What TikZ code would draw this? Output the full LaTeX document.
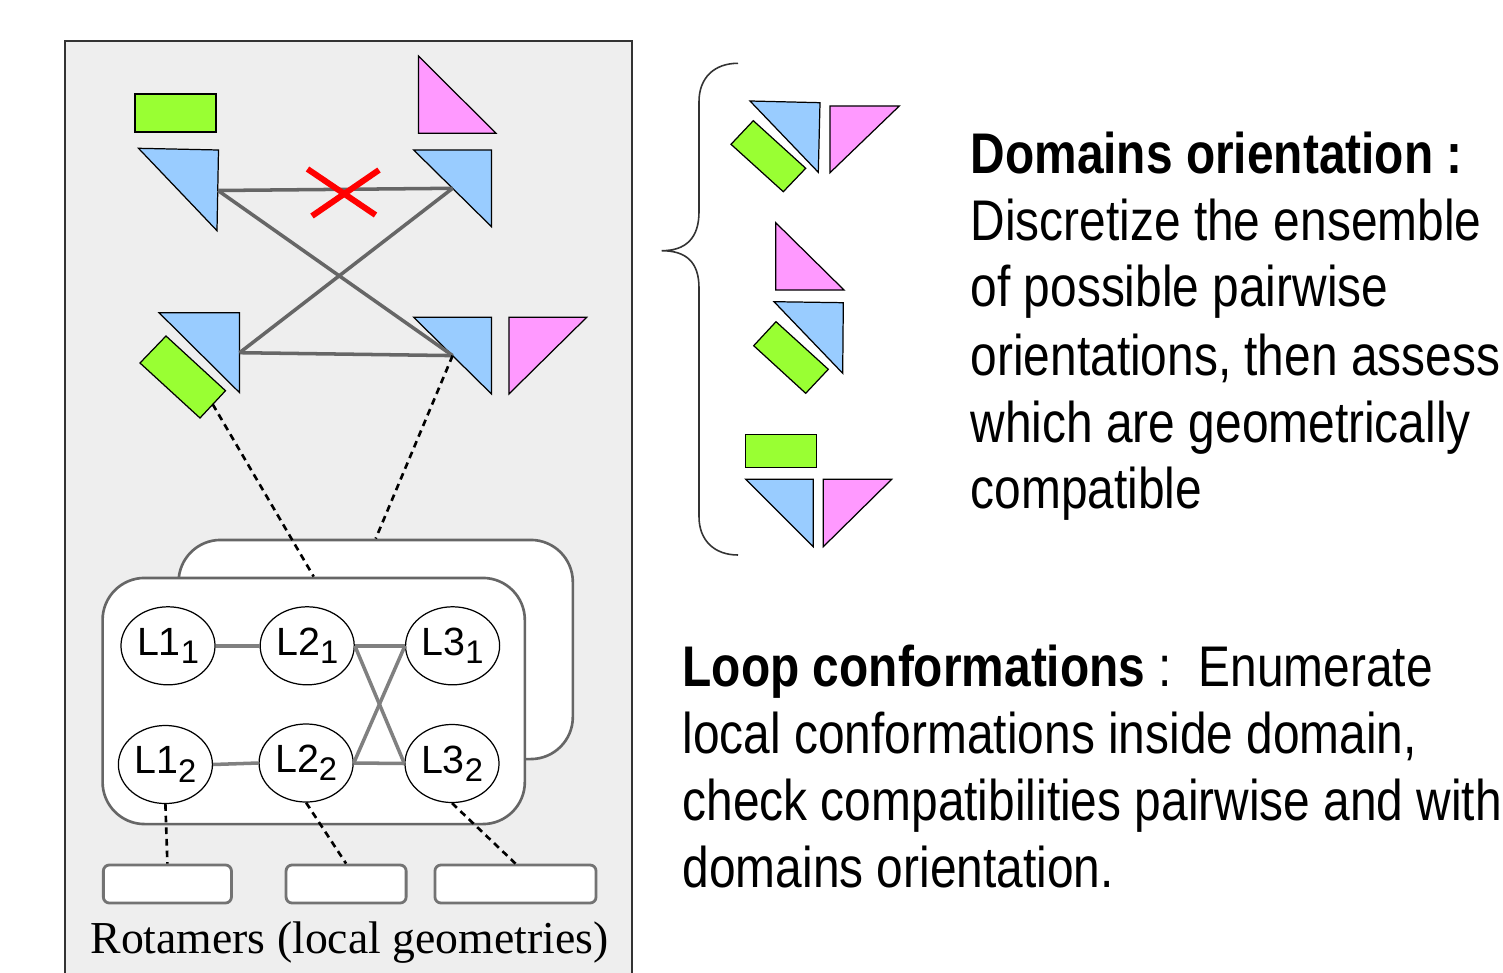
\documentclass[tikz,border=0pt]{standalone}
\usepackage{fontspec}
\usetikzlibrary{shapes.geometric}
\newfontfamily\narrowfont[FakeStretch=0.835]{Liberation Sans}
\newfontfamily\labfont{Liberation Sans}
\newfontfamily\serifcap{Liberation Serif}
\definecolor{bluet}{HTML}{99CCFF}
\definecolor{pinkt}{HTML}{FF99FF}
\definecolor{greent}{HTML}{99FF33}
\definecolor{panelbg}{HTML}{EEEEEE}
\definecolor{edgegray}{HTML}{666666}
\definecolor{linkgray}{HTML}{808080}
\newcommand{\lsub}[1]{\raisebox{-2.4pt}{\fontsize{9.3}{10}\selectfont #1}}
\begin{document}
\begin{tikzpicture}[x=0.01cm,y=-0.01cm,
  shapeline/.style={draw=black, line width=0.35pt, line join=miter},
  bluetri/.style={shapeline, fill=bluet},
  pinktri/.style={shapeline, fill=pinkt},
  greenbox/.style={shapeline, fill=greent},
  orientlink/.style={draw=edgegray, line width=1pt},
  cross/.style={draw=red, line width=1.7pt},
  dotlink/.style={draw=black, line width=0.75pt, dash pattern=on 1.9pt off 1.4pt},
  confbox/.style={draw=edgegray, fill=white, line width=0.75pt, rounded corners=0.42cm, inner sep=0pt},
  loopnode/.style={ellipse, draw=black, line width=0.35pt, fill=white, minimum width=0.94cm, minimum height=0.78cm, inner sep=0pt, font=\labfont\fontsize{11.2}{13}\selectfont},
  looplink/.style={draw=linkgray, line width=1pt},
  rotbox/.style={draw=black!55, fill=white, line width=0.8pt, rounded corners=0.06cm, minimum height=0.38cm, inner sep=0pt},
  desc/.style={anchor=base west, inner sep=0pt, font=\narrowfont\fontsize{16.3}{19}\selectfont},
  bracestyle/.style={draw=black!80, line width=0.45pt}
]
\useasboundingbox (0,0) rectangle (1503,973);
\fill[white] (0,0) rectangle (1503,973);
% left panel
\draw[fill=panelbg, draw=black!80, line width=0.4pt] (65,985) -- (65,41) -- (632,41) -- (632,985);

% top orientation shapes
\draw[greenbox] (135,94) rectangle (216,132);
\draw[pinktri] (418.5,56) -- (418.5,133.3) -- (496,133.3) -- cycle;
\draw[bluetri] (138.5,148.3) -- (218.5,150) -- (217,230.7) -- cycle;
\draw[bluetri] (413.7,150) -- (491.5,150) -- (491.5,226.7) -- cycle;
% bottom orientation shapes
\draw[greenbox] (140,363) -- (166,336) -- (225.5,390.7) -- (200,418) -- cycle;
\draw[bluetri] (159,312.7) -- (239.6,312.7) -- (239.6,392.7) -- cycle;
\draw[bluetri] (413.7,317.3) -- (491.5,317.3) -- (491.5,394) -- cycle;
\draw[pinktri] (508.9,317.3) -- (586.7,317.3) -- (508.9,394) -- cycle;

\coordinate (oTL) at (218,190.5);
\coordinate (oTR) at (452.6,188.3);
\coordinate (oBL) at (239.6,352.7);
\coordinate (oBR) at (452.6,355.6);
\coordinate (gBL) at (212.7,404.3);
\draw[orientlink] (oTL) -- (oTR);
\draw[orientlink] (oTL) -- (oBR);
\draw[orientlink] (oTR) -- (oBL);
\draw[orientlink] (oBL) -- (oBR);
\draw[cross] (307.5,169) -- (375.5,215);
\draw[cross] (379,170) -- (312,216);

% conformation boxes
\node[confbox, minimum width=3.94cm, minimum height=2.19cm] (back) at (375.7,649.5) {};
\node[confbox, minimum width=4.22cm, minimum height=2.46cm] (front) at (313.7,701) {};

\node[loopnode] (l11) at (168,645.8) {L1\lsub{1}};
\node[loopnode] (l21) at (307.2,645.8) {L2\lsub{1}};
\node[loopnode] (l31) at (452.6,645.8) {L3\lsub{1}};
\node[loopnode] (l12) at (165.4,764.5) {L1\lsub{2}};
\node[loopnode] (l22) at (306.1,763) {L2\lsub{2}};
\node[loopnode] (l32) at (452,763.5) {L3\lsub{2}};

\draw[looplink] (l11.east) -- (l21.west);
\draw[looplink] (l12.east) -- (l22.west);
\draw[looplink] (l21.east) -- (l31.west);
\draw[looplink] (l22.east) -- (l32.west);
\draw[looplink] (l21.east) -- (l32.west);
\draw[looplink] (l22.east) -- (l31.west);

\node[rotbox, minimum width=1.28cm] (r1) at (167.4,884) {};
\node[rotbox, minimum width=1.2cm] (r2) at (346.1,884) {};
\node[rotbox, minimum width=1.61cm] (r3) at (515.5,884) {};

\draw[dotlink] (gBL) -- (front.north);
\draw[dotlink] (oBR) -- (back.north);
\draw[dotlink] (l12.south) -- (r1.north);
\draw[dotlink] (l22.south) -- (r2.north);
\draw[dotlink] (l32.south) -- (r3.north);

\node[anchor=base, inner sep=0pt, font=\serifcap\fontsize{13}{15}\selectfont] (rotlabel) at (349.5,953) {Rotamers (local geometries)};

% brace
\draw[bracestyle] (738,63.3) .. controls (714,63.3) and (699,78) .. (699,101.7)
  -- (699,211.7) .. controls (699,238) and (686,250.7) .. (661.7,250.7)
  .. controls (686,250.7) and (699,262) .. (699,288)
  -- (699,516.7) .. controls (699,540) and (714,555) .. (738,555);

% right-side orientations
\draw[bluetri] (750,101) -- (820,102.7) -- (818.3,172.3) -- cycle;
\draw[pinktri] (830,106) -- (899.3,106) -- (830,172.7) -- cycle;
\draw[greenbox] (731,144.3) -- (753.3,120.7) -- (805.7,168.3) -- (783.3,191.7) -- cycle;
\draw[pinktri] (775.7,222.7) -- (775.7,290) -- (844,290) -- cycle;
\draw[bluetri] (774,301.7) -- (843.3,302.7) -- (842.7,373.3) -- cycle;
\draw[greenbox] (753.7,345.7) -- (776,321.7) -- (828.3,369.3) -- (805.7,393.3) -- cycle;
\draw[greenbox] (745.7,434.3) rectangle (816.7,467.3);
\draw[bluetri] (745.7,479.3) -- (813.3,479.3) -- (813.3,546.7) -- cycle;
\draw[pinktri] (823.3,479.3) -- (891.7,479.3) -- (823.3,546.7) -- cycle;

% texts
\node[desc] (d1) at (970,173) {\bfseries Domains orientation :};
\node[desc] (d2) at (970,241) {Discretize the ensemble};
\node[desc] (d3) at (970,307) {of possible pairwise};
\node[desc] (d4) at (970,375) {orientations, then assess};
\node[desc] (d5) at (970,442) {which are geometrically};
\node[desc] (d6) at (970,508) {compatible};

\node[desc] (c1) at (682,686) {\textbf{Loop conformations} :\ \ Enumerate};
\node[desc] (c2) at (682,753) {local conformations inside domain,};
\node[desc] (c3) at (682,820) {check compatibilities pairwise and with};
\node[desc] (c4) at (682,887) {domains orientation.};
\end{tikzpicture}
\end{document}
